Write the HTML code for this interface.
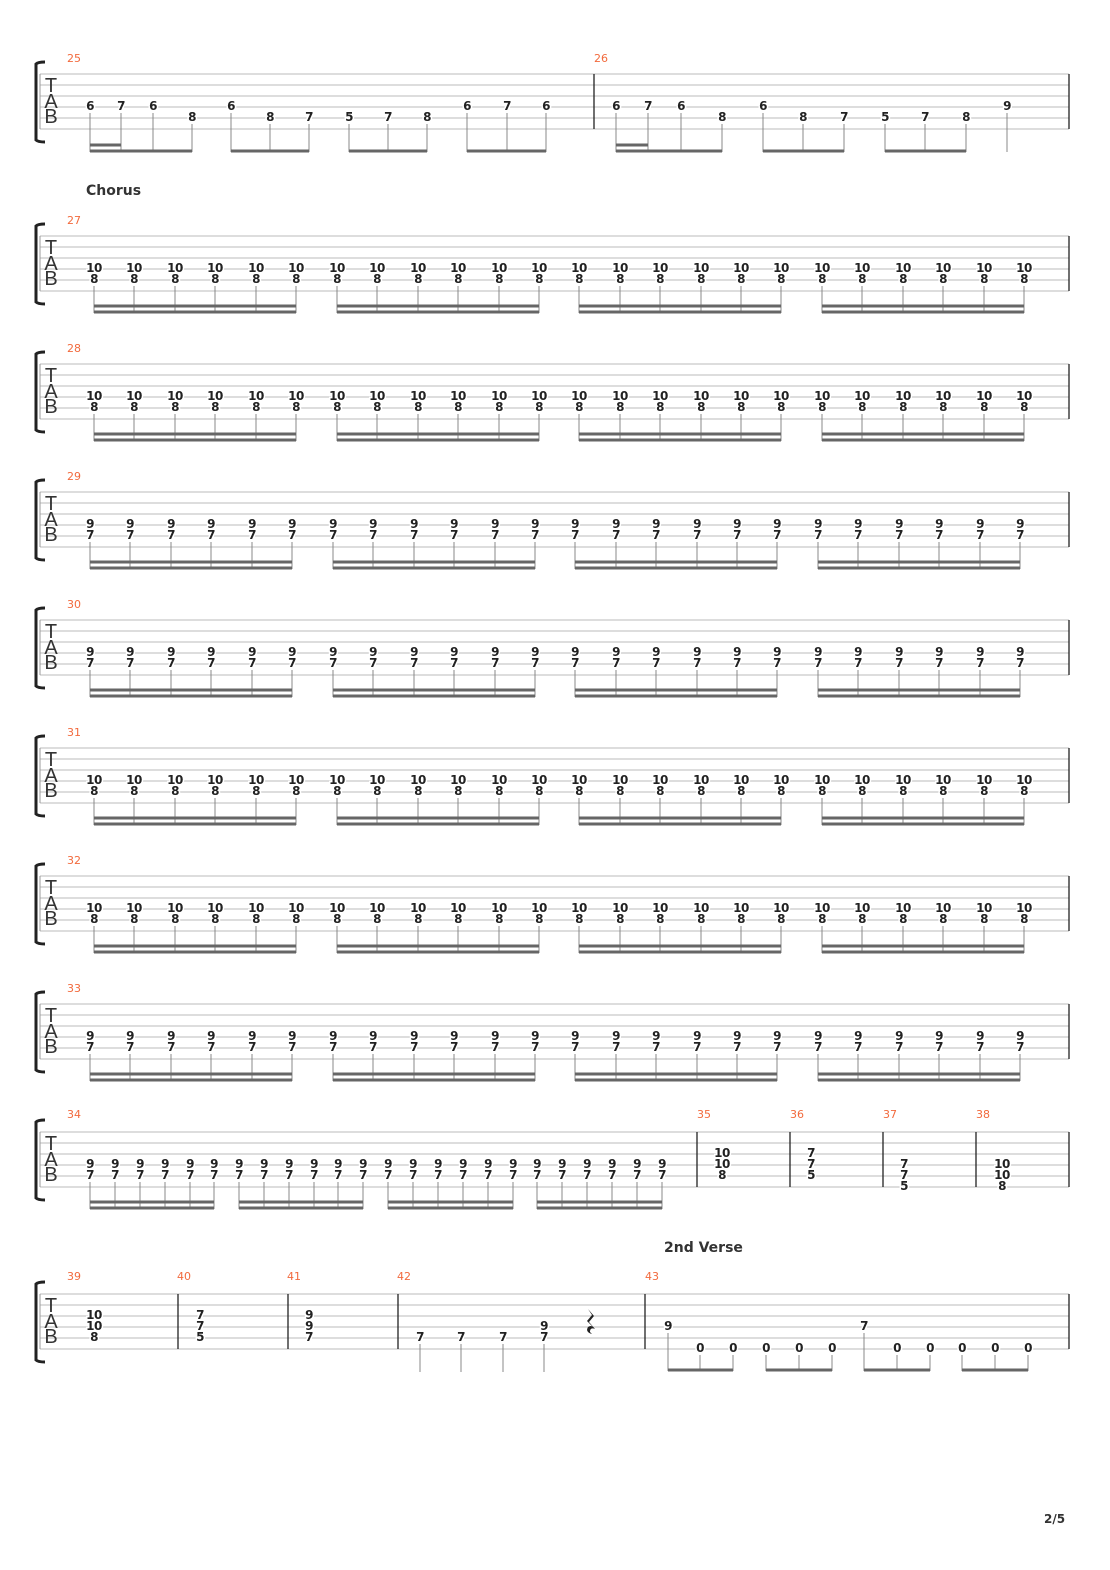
<!DOCTYPE html>
<html><head><meta charset="utf-8"><style>
html,body{margin:0;padding:0;background:#fff}
svg{display:block}
.n{font-family:"DejaVu Sans","Liberation Sans",sans-serif;font-weight:bold;font-size:12px;text-anchor:middle;fill:#222;stroke:#fff;stroke-width:3px;paint-order:stroke;letter-spacing:-0.5px}
.m{font-family:"DejaVu Sans","Liberation Sans",sans-serif;font-size:11px;fill:#f26a3d}
.t{font-family:"Liberation Sans","DejaVu Sans",sans-serif;font-size:20px;fill:#333;text-anchor:middle}
.h{font-family:"DejaVu Sans","Liberation Sans",sans-serif;font-weight:bold;font-size:14px;fill:#333}
.sl{stroke:#bbb;stroke-width:1;fill:none}
.st{stroke:#888;stroke-width:1;fill:none}
.bm{stroke:#666;stroke-width:3;fill:none}
.bl{stroke:#222;stroke-width:1.3}
</style></head><body>
<svg width="1110" height="1570" viewBox="0 0 1110 1570" xmlns="http://www.w3.org/2000/svg">

<!-- System 1: measures 25-26, T=74 -->
<g transform="translate(0,74)">
<path class="sl" d="M40 0H1069M40 11H1069M40 22H1069M40 33H1069M40 44H1069M40 55H1069"/>
<path d="M40 0V55" stroke="#999"/><path d="M1069 0V55M594 0V55" class="bl"/>
<path d="M45 -12 Q38 -12 36 -10 V66 Q38 68 45 68" fill="none" stroke="#222" stroke-width="3"/>
<text class="t" x="51" y="18">T</text><text class="t" x="51" y="34">A</text><text class="t" x="51" y="49">B</text>
<text class="m" x="67" y="-12">25</text><text class="m" x="594" y="-12">26</text>
<text class="n" x="90" y="36">6</text><text class="n" x="121" y="36">7</text><text class="n" x="153" y="36">6</text><text class="n" x="192" y="47">8</text>
<text class="n" x="231" y="36">6</text><text class="n" x="270" y="47">8</text><text class="n" x="309" y="47">7</text>
<text class="n" x="349" y="47">5</text><text class="n" x="388" y="47">7</text><text class="n" x="427" y="47">8</text>
<text class="n" x="467" y="36">6</text><text class="n" x="507" y="36">7</text><text class="n" x="546" y="36">6</text>
<text class="n" x="616" y="36">6</text><text class="n" x="648" y="36">7</text><text class="n" x="681" y="36">6</text><text class="n" x="722" y="47">8</text>
<text class="n" x="763" y="36">6</text><text class="n" x="803" y="47">8</text><text class="n" x="844" y="47">7</text>
<text class="n" x="885" y="47">5</text><text class="n" x="925" y="47">7</text><text class="n" x="966" y="47">8</text>
<text class="n" x="1007" y="36">9</text>
<path class="st" d="M90 39V78M121 39V78M153 39V78M192 50V78M231 39V78M270 50V78M309 50V78M349 50V78M388 50V78M427 50V78M467 39V78M507 39V78M546 39V78M616 39V78M648 39V78M681 39V78M722 50V78M763 39V78M803 50V78M844 50V78M885 50V78M925 50V78M966 50V78M1007 39V78"/>
<path class="bm" d="M90 77H192M231 77H309M349 77H427M467 77H546M616 77H722M763 77H844M885 77H966M90 71H121M616 71H648"/>
</g>

<text class="h" x="86" y="195">Chorus</text>

<!-- 10/8 systems -->
<g transform="translate(0,236)">
<path class="sl" d="M40 0H1069M40 11H1069M40 22H1069M40 33H1069M40 44H1069M40 55H1069"/>
<path d="M40 0V55" stroke="#999"/><path d="M1069 0V55" class="bl"/>
<path d="M45 -12 Q38 -12 36 -10 V66 Q38 68 45 68" fill="none" stroke="#222" stroke-width="3"/>
<text class="t" x="51" y="18">T</text><text class="t" x="51" y="34">A</text><text class="t" x="51" y="49">B</text>
<text class="m" x="67" y="-12">27</text>
<text class="n" x="94" y="36">10</text><text class="n" x="94" y="47">8</text><text class="n" x="134" y="36">10</text><text class="n" x="134" y="47">8</text><text class="n" x="175" y="36">10</text><text class="n" x="175" y="47">8</text><text class="n" x="215" y="36">10</text><text class="n" x="215" y="47">8</text><text class="n" x="256" y="36">10</text><text class="n" x="256" y="47">8</text><text class="n" x="296" y="36">10</text><text class="n" x="296" y="47">8</text>
<text class="n" x="337" y="36">10</text><text class="n" x="337" y="47">8</text><text class="n" x="377" y="36">10</text><text class="n" x="377" y="47">8</text><text class="n" x="418" y="36">10</text><text class="n" x="418" y="47">8</text><text class="n" x="458" y="36">10</text><text class="n" x="458" y="47">8</text><text class="n" x="499" y="36">10</text><text class="n" x="499" y="47">8</text><text class="n" x="539" y="36">10</text><text class="n" x="539" y="47">8</text>
<text class="n" x="579" y="36">10</text><text class="n" x="579" y="47">8</text><text class="n" x="620" y="36">10</text><text class="n" x="620" y="47">8</text><text class="n" x="660" y="36">10</text><text class="n" x="660" y="47">8</text><text class="n" x="701" y="36">10</text><text class="n" x="701" y="47">8</text><text class="n" x="741" y="36">10</text><text class="n" x="741" y="47">8</text><text class="n" x="781" y="36">10</text><text class="n" x="781" y="47">8</text>
<text class="n" x="822" y="36">10</text><text class="n" x="822" y="47">8</text><text class="n" x="862" y="36">10</text><text class="n" x="862" y="47">8</text><text class="n" x="903" y="36">10</text><text class="n" x="903" y="47">8</text><text class="n" x="943" y="36">10</text><text class="n" x="943" y="47">8</text><text class="n" x="984" y="36">10</text><text class="n" x="984" y="47">8</text><text class="n" x="1024" y="36">10</text><text class="n" x="1024" y="47">8</text>
<path class="st" d="M94 50V77M134 50V77M175 50V77M215 50V77M256 50V77M296 50V77M337 50V77M377 50V77M418 50V77M458 50V77M499 50V77M539 50V77M579 50V77M620 50V77M660 50V77M701 50V77M741 50V77M781 50V77M822 50V77M862 50V77M903 50V77M943 50V77M984 50V77M1024 50V77"/>
<path class="bm" d="M94 70H296M337 70H539M579 70H781M822 70H1024M94 76H296M337 76H539M579 76H781M822 76H1024"/>
</g>

<g transform="translate(0,364)">
<path class="sl" d="M40 0H1069M40 11H1069M40 22H1069M40 33H1069M40 44H1069M40 55H1069"/>
<path d="M40 0V55" stroke="#999"/><path d="M1069 0V55" class="bl"/>
<path d="M45 -12 Q38 -12 36 -10 V66 Q38 68 45 68" fill="none" stroke="#222" stroke-width="3"/>
<text class="t" x="51" y="18">T</text><text class="t" x="51" y="34">A</text><text class="t" x="51" y="49">B</text>
<text class="m" x="67" y="-12">28</text>
<text class="n" x="94" y="36">10</text><text class="n" x="94" y="47">8</text><text class="n" x="134" y="36">10</text><text class="n" x="134" y="47">8</text><text class="n" x="175" y="36">10</text><text class="n" x="175" y="47">8</text><text class="n" x="215" y="36">10</text><text class="n" x="215" y="47">8</text><text class="n" x="256" y="36">10</text><text class="n" x="256" y="47">8</text><text class="n" x="296" y="36">10</text><text class="n" x="296" y="47">8</text>
<text class="n" x="337" y="36">10</text><text class="n" x="337" y="47">8</text><text class="n" x="377" y="36">10</text><text class="n" x="377" y="47">8</text><text class="n" x="418" y="36">10</text><text class="n" x="418" y="47">8</text><text class="n" x="458" y="36">10</text><text class="n" x="458" y="47">8</text><text class="n" x="499" y="36">10</text><text class="n" x="499" y="47">8</text><text class="n" x="539" y="36">10</text><text class="n" x="539" y="47">8</text>
<text class="n" x="579" y="36">10</text><text class="n" x="579" y="47">8</text><text class="n" x="620" y="36">10</text><text class="n" x="620" y="47">8</text><text class="n" x="660" y="36">10</text><text class="n" x="660" y="47">8</text><text class="n" x="701" y="36">10</text><text class="n" x="701" y="47">8</text><text class="n" x="741" y="36">10</text><text class="n" x="741" y="47">8</text><text class="n" x="781" y="36">10</text><text class="n" x="781" y="47">8</text>
<text class="n" x="822" y="36">10</text><text class="n" x="822" y="47">8</text><text class="n" x="862" y="36">10</text><text class="n" x="862" y="47">8</text><text class="n" x="903" y="36">10</text><text class="n" x="903" y="47">8</text><text class="n" x="943" y="36">10</text><text class="n" x="943" y="47">8</text><text class="n" x="984" y="36">10</text><text class="n" x="984" y="47">8</text><text class="n" x="1024" y="36">10</text><text class="n" x="1024" y="47">8</text>
<path class="st" d="M94 50V77M134 50V77M175 50V77M215 50V77M256 50V77M296 50V77M337 50V77M377 50V77M418 50V77M458 50V77M499 50V77M539 50V77M579 50V77M620 50V77M660 50V77M701 50V77M741 50V77M781 50V77M822 50V77M862 50V77M903 50V77M943 50V77M984 50V77M1024 50V77"/>
<path class="bm" d="M94 70H296M337 70H539M579 70H781M822 70H1024M94 76H296M337 76H539M579 76H781M822 76H1024"/>
</g>

<!-- 9/7 systems -->
<g transform="translate(0,492)">
<path class="sl" d="M40 0H1069M40 11H1069M40 22H1069M40 33H1069M40 44H1069M40 55H1069"/>
<path d="M40 0V55" stroke="#999"/><path d="M1069 0V55" class="bl"/>
<path d="M45 -12 Q38 -12 36 -10 V66 Q38 68 45 68" fill="none" stroke="#222" stroke-width="3"/>
<text class="t" x="51" y="18">T</text><text class="t" x="51" y="34">A</text><text class="t" x="51" y="49">B</text>
<text class="m" x="67" y="-12">29</text>
<text class="n" x="90" y="36">9</text><text class="n" x="90" y="47">7</text><text class="n" x="130" y="36">9</text><text class="n" x="130" y="47">7</text><text class="n" x="171" y="36">9</text><text class="n" x="171" y="47">7</text><text class="n" x="211" y="36">9</text><text class="n" x="211" y="47">7</text><text class="n" x="252" y="36">9</text><text class="n" x="252" y="47">7</text><text class="n" x="292" y="36">9</text><text class="n" x="292" y="47">7</text>
<text class="n" x="333" y="36">9</text><text class="n" x="333" y="47">7</text><text class="n" x="373" y="36">9</text><text class="n" x="373" y="47">7</text><text class="n" x="414" y="36">9</text><text class="n" x="414" y="47">7</text><text class="n" x="454" y="36">9</text><text class="n" x="454" y="47">7</text><text class="n" x="495" y="36">9</text><text class="n" x="495" y="47">7</text><text class="n" x="535" y="36">9</text><text class="n" x="535" y="47">7</text>
<text class="n" x="575" y="36">9</text><text class="n" x="575" y="47">7</text><text class="n" x="616" y="36">9</text><text class="n" x="616" y="47">7</text><text class="n" x="656" y="36">9</text><text class="n" x="656" y="47">7</text><text class="n" x="697" y="36">9</text><text class="n" x="697" y="47">7</text><text class="n" x="737" y="36">9</text><text class="n" x="737" y="47">7</text><text class="n" x="777" y="36">9</text><text class="n" x="777" y="47">7</text>
<text class="n" x="818" y="36">9</text><text class="n" x="818" y="47">7</text><text class="n" x="858" y="36">9</text><text class="n" x="858" y="47">7</text><text class="n" x="899" y="36">9</text><text class="n" x="899" y="47">7</text><text class="n" x="939" y="36">9</text><text class="n" x="939" y="47">7</text><text class="n" x="980" y="36">9</text><text class="n" x="980" y="47">7</text><text class="n" x="1020" y="36">9</text><text class="n" x="1020" y="47">7</text>
<path class="st" d="M90 50V77M130 50V77M171 50V77M211 50V77M252 50V77M292 50V77M333 50V77M373 50V77M414 50V77M454 50V77M495 50V77M535 50V77M575 50V77M616 50V77M656 50V77M697 50V77M737 50V77M777 50V77M818 50V77M858 50V77M899 50V77M939 50V77M980 50V77M1020 50V77"/>
<path class="bm" d="M90 70H292M333 70H535M575 70H777M818 70H1020M90 76H292M333 76H535M575 76H777M818 76H1020"/>
</g>

<g transform="translate(0,620)">
<path class="sl" d="M40 0H1069M40 11H1069M40 22H1069M40 33H1069M40 44H1069M40 55H1069"/>
<path d="M40 0V55" stroke="#999"/><path d="M1069 0V55" class="bl"/>
<path d="M45 -12 Q38 -12 36 -10 V66 Q38 68 45 68" fill="none" stroke="#222" stroke-width="3"/>
<text class="t" x="51" y="18">T</text><text class="t" x="51" y="34">A</text><text class="t" x="51" y="49">B</text>
<text class="m" x="67" y="-12">30</text>
<text class="n" x="90" y="36">9</text><text class="n" x="90" y="47">7</text><text class="n" x="130" y="36">9</text><text class="n" x="130" y="47">7</text><text class="n" x="171" y="36">9</text><text class="n" x="171" y="47">7</text><text class="n" x="211" y="36">9</text><text class="n" x="211" y="47">7</text><text class="n" x="252" y="36">9</text><text class="n" x="252" y="47">7</text><text class="n" x="292" y="36">9</text><text class="n" x="292" y="47">7</text>
<text class="n" x="333" y="36">9</text><text class="n" x="333" y="47">7</text><text class="n" x="373" y="36">9</text><text class="n" x="373" y="47">7</text><text class="n" x="414" y="36">9</text><text class="n" x="414" y="47">7</text><text class="n" x="454" y="36">9</text><text class="n" x="454" y="47">7</text><text class="n" x="495" y="36">9</text><text class="n" x="495" y="47">7</text><text class="n" x="535" y="36">9</text><text class="n" x="535" y="47">7</text>
<text class="n" x="575" y="36">9</text><text class="n" x="575" y="47">7</text><text class="n" x="616" y="36">9</text><text class="n" x="616" y="47">7</text><text class="n" x="656" y="36">9</text><text class="n" x="656" y="47">7</text><text class="n" x="697" y="36">9</text><text class="n" x="697" y="47">7</text><text class="n" x="737" y="36">9</text><text class="n" x="737" y="47">7</text><text class="n" x="777" y="36">9</text><text class="n" x="777" y="47">7</text>
<text class="n" x="818" y="36">9</text><text class="n" x="818" y="47">7</text><text class="n" x="858" y="36">9</text><text class="n" x="858" y="47">7</text><text class="n" x="899" y="36">9</text><text class="n" x="899" y="47">7</text><text class="n" x="939" y="36">9</text><text class="n" x="939" y="47">7</text><text class="n" x="980" y="36">9</text><text class="n" x="980" y="47">7</text><text class="n" x="1020" y="36">9</text><text class="n" x="1020" y="47">7</text>
<path class="st" d="M90 50V77M130 50V77M171 50V77M211 50V77M252 50V77M292 50V77M333 50V77M373 50V77M414 50V77M454 50V77M495 50V77M535 50V77M575 50V77M616 50V77M656 50V77M697 50V77M737 50V77M777 50V77M818 50V77M858 50V77M899 50V77M939 50V77M980 50V77M1020 50V77"/>
<path class="bm" d="M90 70H292M333 70H535M575 70H777M818 70H1020M90 76H292M333 76H535M575 76H777M818 76H1020"/>
</g>

<g transform="translate(0,748)">
<path class="sl" d="M40 0H1069M40 11H1069M40 22H1069M40 33H1069M40 44H1069M40 55H1069"/>
<path d="M40 0V55" stroke="#999"/><path d="M1069 0V55" class="bl"/>
<path d="M45 -12 Q38 -12 36 -10 V66 Q38 68 45 68" fill="none" stroke="#222" stroke-width="3"/>
<text class="t" x="51" y="18">T</text><text class="t" x="51" y="34">A</text><text class="t" x="51" y="49">B</text>
<text class="m" x="67" y="-12">31</text>
<text class="n" x="94" y="36">10</text><text class="n" x="94" y="47">8</text><text class="n" x="134" y="36">10</text><text class="n" x="134" y="47">8</text><text class="n" x="175" y="36">10</text><text class="n" x="175" y="47">8</text><text class="n" x="215" y="36">10</text><text class="n" x="215" y="47">8</text><text class="n" x="256" y="36">10</text><text class="n" x="256" y="47">8</text><text class="n" x="296" y="36">10</text><text class="n" x="296" y="47">8</text>
<text class="n" x="337" y="36">10</text><text class="n" x="337" y="47">8</text><text class="n" x="377" y="36">10</text><text class="n" x="377" y="47">8</text><text class="n" x="418" y="36">10</text><text class="n" x="418" y="47">8</text><text class="n" x="458" y="36">10</text><text class="n" x="458" y="47">8</text><text class="n" x="499" y="36">10</text><text class="n" x="499" y="47">8</text><text class="n" x="539" y="36">10</text><text class="n" x="539" y="47">8</text>
<text class="n" x="579" y="36">10</text><text class="n" x="579" y="47">8</text><text class="n" x="620" y="36">10</text><text class="n" x="620" y="47">8</text><text class="n" x="660" y="36">10</text><text class="n" x="660" y="47">8</text><text class="n" x="701" y="36">10</text><text class="n" x="701" y="47">8</text><text class="n" x="741" y="36">10</text><text class="n" x="741" y="47">8</text><text class="n" x="781" y="36">10</text><text class="n" x="781" y="47">8</text>
<text class="n" x="822" y="36">10</text><text class="n" x="822" y="47">8</text><text class="n" x="862" y="36">10</text><text class="n" x="862" y="47">8</text><text class="n" x="903" y="36">10</text><text class="n" x="903" y="47">8</text><text class="n" x="943" y="36">10</text><text class="n" x="943" y="47">8</text><text class="n" x="984" y="36">10</text><text class="n" x="984" y="47">8</text><text class="n" x="1024" y="36">10</text><text class="n" x="1024" y="47">8</text>
<path class="st" d="M94 50V77M134 50V77M175 50V77M215 50V77M256 50V77M296 50V77M337 50V77M377 50V77M418 50V77M458 50V77M499 50V77M539 50V77M579 50V77M620 50V77M660 50V77M701 50V77M741 50V77M781 50V77M822 50V77M862 50V77M903 50V77M943 50V77M984 50V77M1024 50V77"/>
<path class="bm" d="M94 70H296M337 70H539M579 70H781M822 70H1024M94 76H296M337 76H539M579 76H781M822 76H1024"/>
</g>

<g transform="translate(0,876)">
<path class="sl" d="M40 0H1069M40 11H1069M40 22H1069M40 33H1069M40 44H1069M40 55H1069"/>
<path d="M40 0V55" stroke="#999"/><path d="M1069 0V55" class="bl"/>
<path d="M45 -12 Q38 -12 36 -10 V66 Q38 68 45 68" fill="none" stroke="#222" stroke-width="3"/>
<text class="t" x="51" y="18">T</text><text class="t" x="51" y="34">A</text><text class="t" x="51" y="49">B</text>
<text class="m" x="67" y="-12">32</text>
<text class="n" x="94" y="36">10</text><text class="n" x="94" y="47">8</text><text class="n" x="134" y="36">10</text><text class="n" x="134" y="47">8</text><text class="n" x="175" y="36">10</text><text class="n" x="175" y="47">8</text><text class="n" x="215" y="36">10</text><text class="n" x="215" y="47">8</text><text class="n" x="256" y="36">10</text><text class="n" x="256" y="47">8</text><text class="n" x="296" y="36">10</text><text class="n" x="296" y="47">8</text>
<text class="n" x="337" y="36">10</text><text class="n" x="337" y="47">8</text><text class="n" x="377" y="36">10</text><text class="n" x="377" y="47">8</text><text class="n" x="418" y="36">10</text><text class="n" x="418" y="47">8</text><text class="n" x="458" y="36">10</text><text class="n" x="458" y="47">8</text><text class="n" x="499" y="36">10</text><text class="n" x="499" y="47">8</text><text class="n" x="539" y="36">10</text><text class="n" x="539" y="47">8</text>
<text class="n" x="579" y="36">10</text><text class="n" x="579" y="47">8</text><text class="n" x="620" y="36">10</text><text class="n" x="620" y="47">8</text><text class="n" x="660" y="36">10</text><text class="n" x="660" y="47">8</text><text class="n" x="701" y="36">10</text><text class="n" x="701" y="47">8</text><text class="n" x="741" y="36">10</text><text class="n" x="741" y="47">8</text><text class="n" x="781" y="36">10</text><text class="n" x="781" y="47">8</text>
<text class="n" x="822" y="36">10</text><text class="n" x="822" y="47">8</text><text class="n" x="862" y="36">10</text><text class="n" x="862" y="47">8</text><text class="n" x="903" y="36">10</text><text class="n" x="903" y="47">8</text><text class="n" x="943" y="36">10</text><text class="n" x="943" y="47">8</text><text class="n" x="984" y="36">10</text><text class="n" x="984" y="47">8</text><text class="n" x="1024" y="36">10</text><text class="n" x="1024" y="47">8</text>
<path class="st" d="M94 50V77M134 50V77M175 50V77M215 50V77M256 50V77M296 50V77M337 50V77M377 50V77M418 50V77M458 50V77M499 50V77M539 50V77M579 50V77M620 50V77M660 50V77M701 50V77M741 50V77M781 50V77M822 50V77M862 50V77M903 50V77M943 50V77M984 50V77M1024 50V77"/>
<path class="bm" d="M94 70H296M337 70H539M579 70H781M822 70H1024M94 76H296M337 76H539M579 76H781M822 76H1024"/>
</g>

<g transform="translate(0,1004)">
<path class="sl" d="M40 0H1069M40 11H1069M40 22H1069M40 33H1069M40 44H1069M40 55H1069"/>
<path d="M40 0V55" stroke="#999"/><path d="M1069 0V55" class="bl"/>
<path d="M45 -12 Q38 -12 36 -10 V66 Q38 68 45 68" fill="none" stroke="#222" stroke-width="3"/>
<text class="t" x="51" y="18">T</text><text class="t" x="51" y="34">A</text><text class="t" x="51" y="49">B</text>
<text class="m" x="67" y="-12">33</text>
<text class="n" x="90" y="36">9</text><text class="n" x="90" y="47">7</text><text class="n" x="130" y="36">9</text><text class="n" x="130" y="47">7</text><text class="n" x="171" y="36">9</text><text class="n" x="171" y="47">7</text><text class="n" x="211" y="36">9</text><text class="n" x="211" y="47">7</text><text class="n" x="252" y="36">9</text><text class="n" x="252" y="47">7</text><text class="n" x="292" y="36">9</text><text class="n" x="292" y="47">7</text>
<text class="n" x="333" y="36">9</text><text class="n" x="333" y="47">7</text><text class="n" x="373" y="36">9</text><text class="n" x="373" y="47">7</text><text class="n" x="414" y="36">9</text><text class="n" x="414" y="47">7</text><text class="n" x="454" y="36">9</text><text class="n" x="454" y="47">7</text><text class="n" x="495" y="36">9</text><text class="n" x="495" y="47">7</text><text class="n" x="535" y="36">9</text><text class="n" x="535" y="47">7</text>
<text class="n" x="575" y="36">9</text><text class="n" x="575" y="47">7</text><text class="n" x="616" y="36">9</text><text class="n" x="616" y="47">7</text><text class="n" x="656" y="36">9</text><text class="n" x="656" y="47">7</text><text class="n" x="697" y="36">9</text><text class="n" x="697" y="47">7</text><text class="n" x="737" y="36">9</text><text class="n" x="737" y="47">7</text><text class="n" x="777" y="36">9</text><text class="n" x="777" y="47">7</text>
<text class="n" x="818" y="36">9</text><text class="n" x="818" y="47">7</text><text class="n" x="858" y="36">9</text><text class="n" x="858" y="47">7</text><text class="n" x="899" y="36">9</text><text class="n" x="899" y="47">7</text><text class="n" x="939" y="36">9</text><text class="n" x="939" y="47">7</text><text class="n" x="980" y="36">9</text><text class="n" x="980" y="47">7</text><text class="n" x="1020" y="36">9</text><text class="n" x="1020" y="47">7</text>
<path class="st" d="M90 50V77M130 50V77M171 50V77M211 50V77M252 50V77M292 50V77M333 50V77M373 50V77M414 50V77M454 50V77M495 50V77M535 50V77M575 50V77M616 50V77M656 50V77M697 50V77M737 50V77M777 50V77M818 50V77M858 50V77M899 50V77M939 50V77M980 50V77M1020 50V77"/>
<path class="bm" d="M90 70H292M333 70H535M575 70H777M818 70H1020M90 76H292M333 76H535M575 76H777M818 76H1020"/>
</g>

<!-- System 34-38, T=1132 -->
<g transform="translate(0,1132)">
<path class="sl" d="M40 0H1069M40 11H1069M40 22H1069M40 33H1069M40 44H1069M40 55H1069"/>
<path d="M40 0V55" stroke="#999"/><path d="M697 0V55M790 0V55M883 0V55M976 0V55M1069 0V55" class="bl"/>
<path d="M45 -12 Q38 -12 36 -10 V66 Q38 68 45 68" fill="none" stroke="#222" stroke-width="3"/>
<text class="t" x="51" y="18">T</text><text class="t" x="51" y="34">A</text><text class="t" x="51" y="49">B</text>
<text class="m" x="67" y="-14">34</text><text class="m" x="697" y="-14">35</text><text class="m" x="790" y="-14">36</text><text class="m" x="883" y="-14">37</text><text class="m" x="976" y="-14">38</text>
<text class="n" x="90" y="36">9</text><text class="n" x="90" y="47">7</text><text class="n" x="115" y="36">9</text><text class="n" x="115" y="47">7</text><text class="n" x="140" y="36">9</text><text class="n" x="140" y="47">7</text><text class="n" x="165" y="36">9</text><text class="n" x="165" y="47">7</text><text class="n" x="190" y="36">9</text><text class="n" x="190" y="47">7</text><text class="n" x="214" y="36">9</text><text class="n" x="214" y="47">7</text>
<text class="n" x="239" y="36">9</text><text class="n" x="239" y="47">7</text><text class="n" x="264" y="36">9</text><text class="n" x="264" y="47">7</text><text class="n" x="289" y="36">9</text><text class="n" x="289" y="47">7</text><text class="n" x="314" y="36">9</text><text class="n" x="314" y="47">7</text><text class="n" x="338" y="36">9</text><text class="n" x="338" y="47">7</text><text class="n" x="363" y="36">9</text><text class="n" x="363" y="47">7</text>
<text class="n" x="388" y="36">9</text><text class="n" x="388" y="47">7</text><text class="n" x="413" y="36">9</text><text class="n" x="413" y="47">7</text><text class="n" x="438" y="36">9</text><text class="n" x="438" y="47">7</text><text class="n" x="463" y="36">9</text><text class="n" x="463" y="47">7</text><text class="n" x="488" y="36">9</text><text class="n" x="488" y="47">7</text><text class="n" x="513" y="36">9</text><text class="n" x="513" y="47">7</text>
<text class="n" x="537" y="36">9</text><text class="n" x="537" y="47">7</text><text class="n" x="562" y="36">9</text><text class="n" x="562" y="47">7</text><text class="n" x="587" y="36">9</text><text class="n" x="587" y="47">7</text><text class="n" x="612" y="36">9</text><text class="n" x="612" y="47">7</text><text class="n" x="637" y="36">9</text><text class="n" x="637" y="47">7</text><text class="n" x="662" y="36">9</text><text class="n" x="662" y="47">7</text>
<path class="st" d="M90 50V77M115 50V77M140 50V77M165 50V77M190 50V77M214 50V77M239 50V77M264 50V77M289 50V77M314 50V77M338 50V77M363 50V77M388 50V77M413 50V77M438 50V77M463 50V77M488 50V77M513 50V77M537 50V77M562 50V77M587 50V77M612 50V77M637 50V77M662 50V77"/>
<path class="bm" d="M90 70H214M239 70H363M388 70H513M537 70H662M90 76H214M239 76H363M388 76H513M537 76H662"/>
<text class="n" x="722" y="25">10</text><text class="n" x="722" y="36">10</text><text class="n" x="722" y="47">8</text>
<text class="n" x="811" y="25">7</text><text class="n" x="811" y="36">7</text><text class="n" x="811" y="47">5</text>
<text class="n" x="904" y="36">7</text><text class="n" x="904" y="47">7</text><text class="n" x="904" y="58">5</text>
<text class="n" x="1002" y="36">10</text><text class="n" x="1002" y="47">10</text><text class="n" x="1002" y="58">8</text>
</g>

<text class="h" x="664" y="1252">2nd Verse</text>

<!-- System 39-43, T=1294 -->
<g transform="translate(0,1294)">
<path class="sl" d="M40 0H1069M40 11H1069M40 22H1069M40 33H1069M40 44H1069M40 55H1069"/>
<path d="M40 0V55" stroke="#999"/><path d="M178 0V55M288 0V55M398 0V55M645 0V55M1069 0V55" class="bl"/>
<path d="M45 -12 Q38 -12 36 -10 V66 Q38 68 45 68" fill="none" stroke="#222" stroke-width="3"/>
<text class="t" x="51" y="18">T</text><text class="t" x="51" y="34">A</text><text class="t" x="51" y="49">B</text>
<text class="m" x="67" y="-14">39</text><text class="m" x="177" y="-14">40</text><text class="m" x="287" y="-14">41</text><text class="m" x="397" y="-14">42</text><text class="m" x="645" y="-14">43</text>
<text class="n" x="94" y="25">10</text><text class="n" x="94" y="36">10</text><text class="n" x="94" y="47">8</text>
<text class="n" x="200" y="25">7</text><text class="n" x="200" y="36">7</text><text class="n" x="200" y="47">5</text>
<text class="n" x="309" y="25">9</text><text class="n" x="309" y="36">9</text><text class="n" x="309" y="47">7</text>
<text class="n" x="420" y="47">7</text><text class="n" x="461" y="47">7</text><text class="n" x="503" y="47">7</text><text class="n" x="544" y="36">9</text><text class="n" x="544" y="47">7</text>
<path class="st" d="M420 50V78M461 50V78M503 50V78M544 50V78"/>
<path d="M588 15 L594 22 L589 28 L595 35 Q590 33 590 38 L592 40 Q585 38 588 33 Q591 31 593 33 L587 27 L592 21 Z" fill="#222"/>
<text class="n" x="668" y="36">9</text><text class="n" x="700" y="58">0</text><text class="n" x="733" y="58">0</text>
<text class="n" x="766" y="58">0</text><text class="n" x="799" y="58">0</text><text class="n" x="832" y="58">0</text>
<text class="n" x="864" y="36">7</text><text class="n" x="897" y="58">0</text><text class="n" x="930" y="58">0</text>
<text class="n" x="962" y="58">0</text><text class="n" x="995" y="58">0</text><text class="n" x="1028" y="58">0</text>
<path class="st" d="M668 39V77M700 61V77M733 61V77M766 61V77M799 61V77M832 61V77M864 39V77M897 61V77M930 61V77M962 61V77M995 61V77M1028 61V77"/>
<path class="bm" d="M668 76H733M766 76H832M864 76H930M962 76H1028"/>
</g>

<text x="1044" y="1523" style="font-family:'DejaVu Sans','Liberation Sans',sans-serif;font-size:12px;font-weight:bold;fill:#333">2/5</text>
</svg>
</body></html>
